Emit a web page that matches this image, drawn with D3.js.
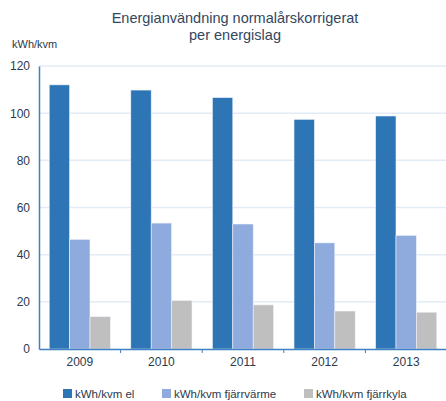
<!DOCTYPE html>
<html>
<head>
<meta charset="utf-8">
<script src="https://cdn.jsdelivr.net/npm/d3@7"></script>
<style>
  body { margin: 0; background: #fff; }
  svg text { font-family: "Liberation Sans", Arial, sans-serif; fill: #2b3a4e; }
</style>
</head>
<body>
<div id="viz"></div>
<script>
const years = ['2009', '2010', '2011', '2012', '2013'];
const seriesNames = ['kWh/kvm el', 'kWh/kvm fjärrvärme', 'kWh/kvm fjärrkyla'];
const elValues = [112, 109.8, 106.6, 97.4, 98.8];
const fjarrvarmeValues = [46.5, 53.4, 53.0, 45.0, 48.2];
const fjarrkylaValues = [13.7, 20.6, 18.7, 16.1, 15.6];
const yTicks = [0, 20, 40, 60, 80, 100, 120];

const width = 446;
const height = 401;
const margin = { top: 66, right: 0, bottom: 52, left: 39 };
const colors = ['#2e75b6', '#8faadc', '#bfbfbf'];

const series = [elValues, fjarrvarmeValues, fjarrkylaValues];

const svg = d3.select('#viz')
  .append('svg')
  .attr('width', width)
  .attr('height', height);

const x = d3.scaleBand()
  .domain(years)
  .range([margin.left, width + 1]);

const xInner = d3.scaleBand()
  .domain(d3.range(seriesNames.length))
  .range([0, x.bandwidth()])
  .paddingOuter(0.5)
  .paddingInner(0);

const y = d3.scaleLinear()
  .domain([0, 120])
  .range([height - margin.bottom, margin.top]);

// gridlines
svg.append('g')
  .selectAll('line')
  .data(yTicks.filter(d => d > 0))
  .enter()
  .append('line')
  .attr('x1', margin.left)
  .attr('x2', width)
  .attr('y1', d => y(d))
  .attr('y2', d => y(d))
  .style('stroke', '#e2ebf6')
  .style('stroke-width', 1.5);

// bars
series.forEach((values, i) => {
  svg.append('g')
    .selectAll('rect')
    .data(values)
    .enter()
    .append('rect')
    .attr('x', (d, j) => x(years[j]) + xInner(i))
    .attr('y', d => y(d))
    .attr('width', xInner.bandwidth())
    .attr('height', d => y(0) - y(d))
    .style('fill', colors[i])
    .style('stroke', '#eef3fa')
    .style('stroke-width', 0.6);
});

// y axis
const yAxis = svg.append('g')
  .attr('transform', `translate(${margin.left},0)`)
  .call(d3.axisLeft(y).tickValues(yTicks).tickSize(0).tickPadding(9));
yAxis.select('.domain').style('stroke', '#3f7fc4').style('stroke-width', 1.5);
yAxis.selectAll('text')
  .style('font-size', '12px')
  .style('fill', '#2b3a4e')
  .style('font-family', '"Liberation Sans", Arial, sans-serif');

// x axis
const xAxis = svg.append('g')
  .attr('transform', `translate(0,${y(0)})`)
  .call(d3.axisBottom(x).tickSize(0).tickPadding(8));
xAxis.select('.domain').style('stroke', '#3f7fc4').style('stroke-width', 1.5);
xAxis.selectAll('text')
  .style('font-size', '12px')
  .style('fill', '#2b3a4e')
  .style('font-family', '"Liberation Sans", Arial, sans-serif');

// category separators on x axis
svg.append('g')
  .selectAll('line')
  .data(years.slice(1))
  .enter()
  .append('line')
  .attr('x1', d => x(d))
  .attr('x2', d => x(d))
  .attr('y1', y(0))
  .attr('y2', y(0) + 4)
  .style('stroke', '#3f7fc4')
  .style('stroke-width', 1);

// title
const title = svg.append('text')
  .attr('x', 235)
  .attr('y', 23)
  .attr('text-anchor', 'middle')
  .style('font-size', '14.5px')
  .style('fill', '#33475e');
title.append('tspan').attr('x', 235).text('Energianvändning normalårskorrigerat');
title.append('tspan').attr('x', 235).attr('dy', 17).text('per energislag');

svg.append('text')
  .attr('x', 12)
  .attr('y', 48)
  .style('font-size', '11px')
  .text('kWh/kvm');

// legend
const legendX = [63, 162, 304];
const legend = svg.append('g')
  .selectAll('g')
  .data(seriesNames)
  .enter()
  .append('g')
  .attr('transform', (d, i) => `translate(${legendX[i]},389)`);

legend.append('rect')
  .attr('width', 9)
  .attr('height', 9)
  .style('fill', (d, i) => colors[i]);

legend.append('text')
  .attr('x', 12)
  .attr('y', 9)
  .style('font-size', '11.5px')
  .text(d => d);
</script>
</body>
</html>
